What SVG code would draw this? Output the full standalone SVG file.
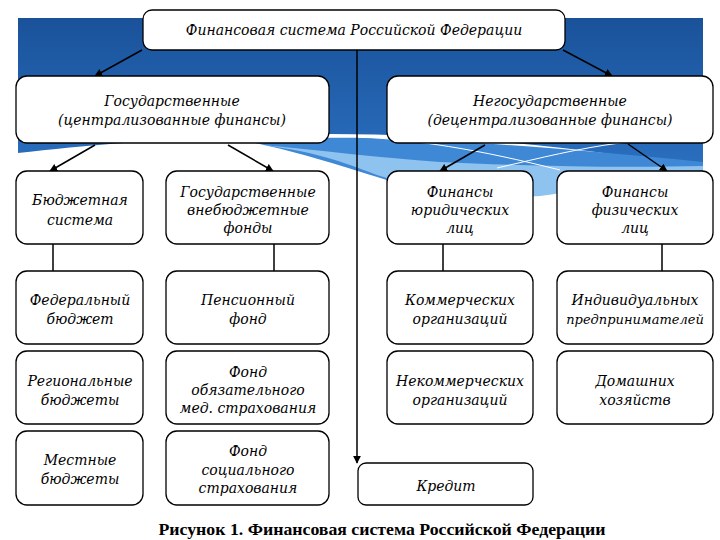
<svg xmlns="http://www.w3.org/2000/svg" width="720" height="540" viewBox="0 0 720 540">
<defs>
<linearGradient id="bg" x1="0" y1="0" x2="0" y2="1">
<stop offset="0" stop-color="#1a529a"/>
<stop offset="1" stop-color="#2a6fbf"/>
</linearGradient>
<marker id="ah" viewBox="0 0 10 10" refX="9" refY="5" markerWidth="8" markerHeight="8" markerUnits="userSpaceOnUse" orient="auto">
<path d="M0,0 L10,5 L0,10 Z" fill="#000"/>
</marker>
<style>
.box{fill:#fff;stroke:#000;stroke-width:1.3}
.t{font-family:"DejaVu Serif","Liberation Serif",serif;font-style:italic;font-size:14px;fill:#000;text-anchor:middle}
.s{font-size:13px}
.c{stroke:#000;stroke-width:1.5;fill:none}
.a{stroke:#000;stroke-width:1.5;fill:none;marker-end:url(#ah)}
.w{stroke:#fff;stroke-width:1;fill:none}
</style>
</defs>
<rect width="720" height="540" fill="#fff"/>
<g id="background">
<path d="M18,18 H703 V168 C 600,150 460,134 330,134 C 220,135 100,143 18,153 Z" fill="url(#bg)"/>
<path d="M250,142 C 330,132 480,140 703,162 V172 C 650,178 600,185 560,190 C 500,198 440,196 400,184 C 340,166 300,152 250,142 Z" fill="#3f88d6"/>
<path d="M262,145 C 320,152 350,165 380,176 C 430,192 490,200 540,196 C 600,188 660,176 703,170 V166 C 620,168 520,166 440,162 C 380,158 320,150 262,145 Z" fill="#8ec2ef"/>
<path class="w" d="M330,135 C 420,139 480,150 560,170"/>
<path class="w" d="M497,168 C 540,158 580,148 620,143 C 650,140 680,139 703,139"/>
</g>
<g id="connectors">
<line class="a" x1="142" y1="50" x2="95" y2="76"/>
<line class="a" x1="563" y1="50" x2="612" y2="76"/>
<line class="a" x1="95" y1="145" x2="50" y2="171"/>
<line class="a" x1="228" y1="145" x2="273" y2="171"/>
<line class="a" x1="485" y1="145" x2="440" y2="171"/>
<line class="a" x1="628" y1="144" x2="667" y2="171"/>
<line class="a" x1="357" y1="50" x2="357" y2="463"/>
<line class="c" x1="53" y1="244" x2="53" y2="271"/>
<line class="c" x1="274" y1="244" x2="274" y2="271"/>
<line class="c" x1="443" y1="244" x2="443" y2="271"/>
<line class="c" x1="662" y1="244" x2="662" y2="271"/>
</g>
<g id="n-root"><rect class="box" x="143" y="10" width="422" height="40" rx="9"/><text class="t" x="354" y="35">Финансовая система Российской Федерации</text></g>
<g id="n-gos"><rect class="box" x="16" y="76" width="313" height="67" rx="11"/><text class="t" x="172" y="106">Государственные</text><text class="t" x="172" y="125">(централизованные финансы)</text></g>
<g id="n-negos"><rect class="box" x="387" y="76" width="326" height="67" rx="11"/><text class="t" x="550" y="106">Негосударственные</text><text class="t" x="550" y="125">(децентрализованные финансы)</text></g>
<g id="n-budget"><rect class="box" x="16" y="171" width="127" height="73" rx="11"/><text class="t" x="80" y="205">Бюджетная</text><text class="t" x="80" y="225">система</text></g>
<g id="n-vnebud"><rect class="box" x="166" y="171" width="163" height="73" rx="11"/><text class="t" x="248" y="197">Государственные</text><text class="t" x="248" y="215">внебюджетные</text><text class="t" x="248" y="233">фонды</text></g>
<g id="n-yur"><rect class="box" x="387" y="171" width="146" height="73" rx="11"/><text class="t" x="460" y="197">Финансы</text><text class="t" x="460" y="215">юридических</text><text class="t" x="460" y="233">лиц</text></g>
<g id="n-fiz"><rect class="box" x="557" y="171" width="156" height="73" rx="11"/><text class="t" x="635" y="197">Финансы</text><text class="t" x="635" y="215">физических</text><text class="t" x="635" y="233">лиц</text></g>
<g id="n-fed"><rect class="box" x="16" y="271" width="127" height="73" rx="11"/><text class="t" x="80" y="305">Федеральный</text><text class="t" x="80" y="324">бюджет</text></g>
<g id="n-pens"><rect class="box" x="166" y="271" width="163" height="73" rx="11"/><text class="t" x="248" y="305">Пенсионный</text><text class="t" x="248" y="324">фонд</text></g>
<g id="n-komm"><rect class="box" x="387" y="271" width="146" height="73" rx="11"/><text class="t" x="460" y="305">Коммерческих</text><text class="t" x="460" y="324">организаций</text></g>
<g id="n-ip"><rect class="box" x="557" y="271" width="156" height="73" rx="11"/><text class="t" x="635" y="305">Индивидуальных</text><text class="t s" x="635" y="324">предпринимателей</text></g>
<g id="n-reg"><rect class="box" x="16" y="351" width="127" height="73" rx="11"/><text class="t" x="80" y="386">Региональные</text><text class="t" x="80" y="405">бюджеты</text></g>
<g id="n-oms"><rect class="box" x="166" y="351" width="163" height="73" rx="11"/><text class="t" x="248" y="377">Фонд</text><text class="t" x="248" y="395">обязательного</text><text class="t" x="248" y="413">мед. страхования</text></g>
<g id="n-nekomm"><rect class="box" x="387" y="351" width="146" height="73" rx="11"/><text class="t" x="460" y="386">Некоммерческих</text><text class="t" x="460" y="405">организаций</text></g>
<g id="n-dom"><rect class="box" x="557" y="351" width="156" height="73" rx="11"/><text class="t" x="635" y="386">Домашних</text><text class="t" x="635" y="405">хозяйств</text></g>
<g id="n-mest"><rect class="box" x="16" y="431" width="127" height="74" rx="11"/><text class="t" x="80" y="465">Местные</text><text class="t" x="80" y="484">бюджеты</text></g>
<g id="n-soc"><rect class="box" x="166" y="431" width="163" height="74" rx="11"/><text class="t" x="248" y="456">Фонд</text><text class="t" x="248" y="475">социального</text><text class="t" x="248" y="493">страхования</text></g>
<g id="n-kredit"><rect class="box" x="358" y="463" width="175" height="42" rx="8"/><text class="t" x="446" y="491">Кредит</text></g>
<text x="382" y="535" font-family="'Liberation Serif',serif" font-weight="bold" font-size="17" text-anchor="middle" textLength="447" lengthAdjust="spacingAndGlyphs">Рисунок 1. Финансовая система Российской Федерации</text>
</svg>
